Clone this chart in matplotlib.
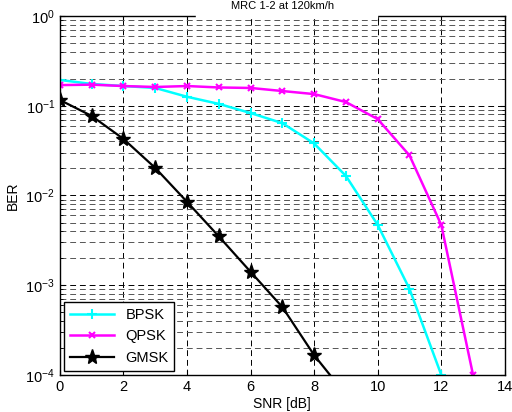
import numpy as np
import matplotlib.pyplot as plt
from matplotlib.patches import Rectangle

plt.rcParams['font.family'] = ['Liberation Sans', 'DejaVu Sans']

# data
snr = [0, 1, 2, 3, 4, 5, 6, 7, 8, 9, 10, 11, 12, 13]
ber_bpsk = [0.194, 0.175, 0.166, 0.158, 0.126, 0.105, 0.083, 0.064, 0.038,
            0.0165, 0.0047, 0.00091, 0.0001]
ber_qpsk = [0.17, 0.172, 0.166, 0.162, 0.166, 0.16, 0.158, 0.146, 0.135,
            0.11, 0.071, 0.028, 0.0047, 0.0001]
ber_gmsk = [0.116, 0.077, 0.0427, 0.0203, 0.0085, 0.0035, 0.00141,
            0.00057, 0.000166, 0.00006]
titulo = 'MRC 1-2 at 120km/h'
xticks = [0, 2, 4, 6, 8, 10, 12, 14]

fig = plt.figure(figsize=(5.12, 4.12), dpi=100)
ax = fig.add_axes([0.117, 0.09, 0.869, 0.871])

ax.semilogy(snr[:len(ber_bpsk)], ber_bpsk, color='cyan', lw=1.8,
            marker='+', ms=7, mew=1.5, label='BPSK')
ax.semilogy(snr[:len(ber_qpsk)], ber_qpsk, color='magenta', lw=1.8,
            marker='x', ms=4, mew=1.5, label='QPSK')
ax.semilogy(snr[:len(ber_gmsk)], ber_gmsk, color='black', lw=1.6,
            marker='*', ms=11, label='GMSK')

ax.set_xlim(0, 14)
ax.set_ylim(1e-4, 1)
ax.set_xticks(xticks)
ax.grid(True, which='major', color='black', ls=(0, (6, 4)), lw=0.7)
ax.grid(True, which='minor', color='#555555', ls=(0, (6, 4)), lw=0.7)
ax.tick_params(which='both', direction='in', top=True, right=True, labelsize=10.5)
for s in ax.spines.values():
    s.set_linewidth(1.0)

ax.set_xlabel('SNR [dB]', fontsize=10, labelpad=2)
ax.set_ylabel('BER', fontsize=10, labelpad=4)

leg = ax.legend(loc='lower left', fontsize=10.5, fancybox=False, framealpha=1,
                edgecolor='black', borderaxespad=0.3, handlelength=3)
leg.get_frame().set_linewidth(1.0)

# title box that covers part of the top border (as in the original)
fig.patches.append(Rectangle((196 / 512, 1 - 18 / 412), 181 / 512, 18 / 412,
                             transform=fig.transFigure, color='white', zorder=5))
fig.text(283 / 512, 1 - 6 / 412, titulo, ha='center', va='center',
         fontsize=8, zorder=6)

plt.savefig('out.png', dpi=100)
